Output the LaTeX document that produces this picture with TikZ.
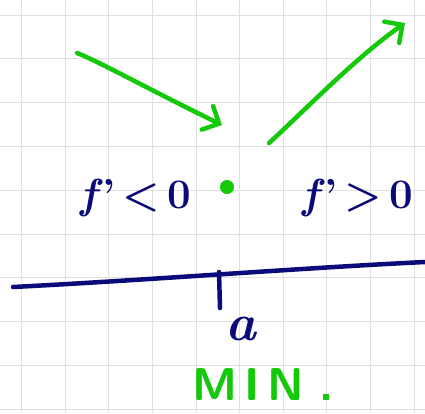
\documentclass[tikz,border=0pt]{standalone}
\usepackage{fontspec}
\usepackage{tikz}
\usetikzlibrary{arrows.meta}
\definecolor{ink}{RGB}{10,10,120}
\definecolor{pen}{RGB}{20,200,10}

\begin{document}
\begin{tikzpicture}[x=1pt,y=-1pt,>={Straight Barb[length=13pt,width=26pt,line cap=round]},
    grid/.style={draw=black!12,line width=1pt},
    greenline/.style={pen,line width=4.5pt,line cap=round,line join=round},
    blueline/.style={ink,line width=4.5pt,line cap=round},
    hand/.style={ink,inner sep=0pt,font=\fontsize{42}{42}\selectfont\bfseries}]
\useasboundingbox (0,0) rectangle (425,413);
\fill[white] (0,0) rectangle (425,413);
% grid paper
\foreach \x in {21.7,65.3,...,425} \draw[grid] (\x,0) -- (\x,413);
\foreach \y in {15,58.8,...,413} \draw[grid] (0,\y) -- (425,\y);
% signs of f'
\node[hand,anchor=base west] (left sign) at (80,208) {\textit{f}'\,<\,0};
\node[hand,anchor=base west] (right sign) at (302,208) {\textit{f}'\,>\,0};
\node[circle,fill=pen,minimum size=14pt,inner sep=0pt] (min point) at (227,187) {};
% arrows
\coordinate (down start) at (77,53);
\coordinate (down end) at (222,125);
\coordinate (up start) at (269,143);
\coordinate (up end) at (405,23);
\draw[greenline,->] (down start) .. controls (100,62) and (150,90) .. (down end);
\draw[greenline,->] (up start) .. controls (300,115) and (355,58) .. (up end);
% axis
\coordinate (axis left) at (13,287);
\coordinate (axis right) at (425,262);
\coordinate (tick top) at (219,272);
\coordinate (tick bottom) at (220,308);
\draw[blueline] (axis left) .. controls (150,280) and (300,268) .. (axis right);
\draw[blueline] (tick top) -- (tick bottom);
\node[hand,anchor=base,font=\fontsize{52}{52}\selectfont\bfseries\itshape] (point a) at (241,340) {a};
\node[pen,inner sep=0pt,anchor=base west,font=\fontsize{46}{46}\selectfont\sffamily\bfseries] (min label) at (192,400) {M\,I\,N\,\,.};
\end{tikzpicture}
\end{document}
